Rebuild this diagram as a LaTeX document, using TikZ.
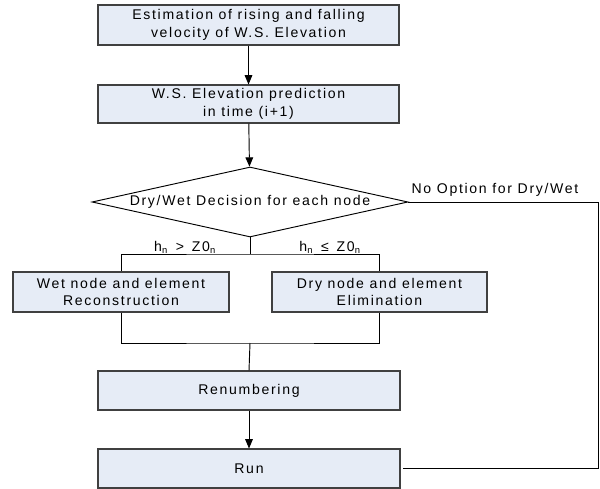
\documentclass[tikz,border=0pt]{standalone}
\usepackage{fontspec}
\setmainfont[LetterSpace=12]{Liberation Sans}
\usepackage[HTML]{xcolor}
\usepackage{tikz}
\usetikzlibrary{positioning, arrows.meta, shapes.geometric}

\definecolor{boxfill}{HTML}{E6ECF6}
\definecolor{boxline}{HTML}{404040}

\begin{document}
\begin{tikzpicture}[x=0.03cm, y=-0.03cm,
  every node/.style={font=\fontsize{12}{15.3}\selectfont},
  procbox/.style={draw=boxline, fill=boxfill, line width=0.9pt, inner sep=0pt, align=center},
  link/.style={line width=0.8pt},
  flow/.style={link, -{Triangle[length=2.8mm, width=2.3mm]}}]

\useasboundingbox (0,0) rectangle (600,489);

% --- Prediction steps ---
\node[procbox, minimum width=301*0.03cm, minimum height=40*0.03cm] (est) at (248.5,25)
  {Estimation of rising and falling\\velocity of W.S. Elevation};
\node[procbox, minimum width=301*0.03cm, minimum height=38*0.03cm] (pred) at (248.5,104)
  {W.S. Elevation prediction\\in time (i+1)};

% --- Decision ---
\node[diamond, draw=black, line width=0.8pt, inner sep=0pt, aspect=4.5,
      minimum width=316*0.03cm, minimum height=70*0.03cm] (dec) at (250,202)
  {Dry/Wet Decision for each node};

% --- Wet / dry branches ---
\node[procbox, minimum width=216*0.03cm, minimum height=40*0.03cm] (wet) at (121,292)
  {Wet node and element\\Reconstruction};
\node[procbox, minimum width=215*0.03cm, minimum height=40*0.03cm] (dry) at (379.5,292)
  {Dry node and element\\Elimination};
\coordinate (split) at (250,254);
\coordinate (merge) at (250,343);
\node (gt) at (185,247) {h\textsubscript{n} \,>\, Z0\textsubscript{n}};
\node (le) at (330,247) {h\textsubscript{n} \,≤\, Z0\textsubscript{n}};

% --- Renumbering and run ---
\node[procbox, minimum width=302*0.03cm, minimum height=39*0.03cm] (ren) at (249,390.5) {Renumbering};
\node[procbox, minimum width=302*0.03cm, minimum height=39*0.03cm] (run) at (249,468.5) {Run};

% --- Connectors ---
\draw[flow] (est) -- (pred);
\draw[flow] (pred) -- (dec);
\draw[link] (dec.south) -- (split);
\draw[link] (wet.north) |- (split) -| (dry.north);
\draw[link] (wet.south) |- (merge) -| (dry.south);
\draw[link] (merge) -- (ren.north);
\draw[flow] (ren) -- (run);

% --- Bypass ---
\coordinate (back) at (598,330);
\draw[link, shorten >=2pt] (dec.east) -| (back) |- (run.east);
\node (noopt) at (495,190) {No Option for Dry/Wet};

\end{tikzpicture}
\end{document}
